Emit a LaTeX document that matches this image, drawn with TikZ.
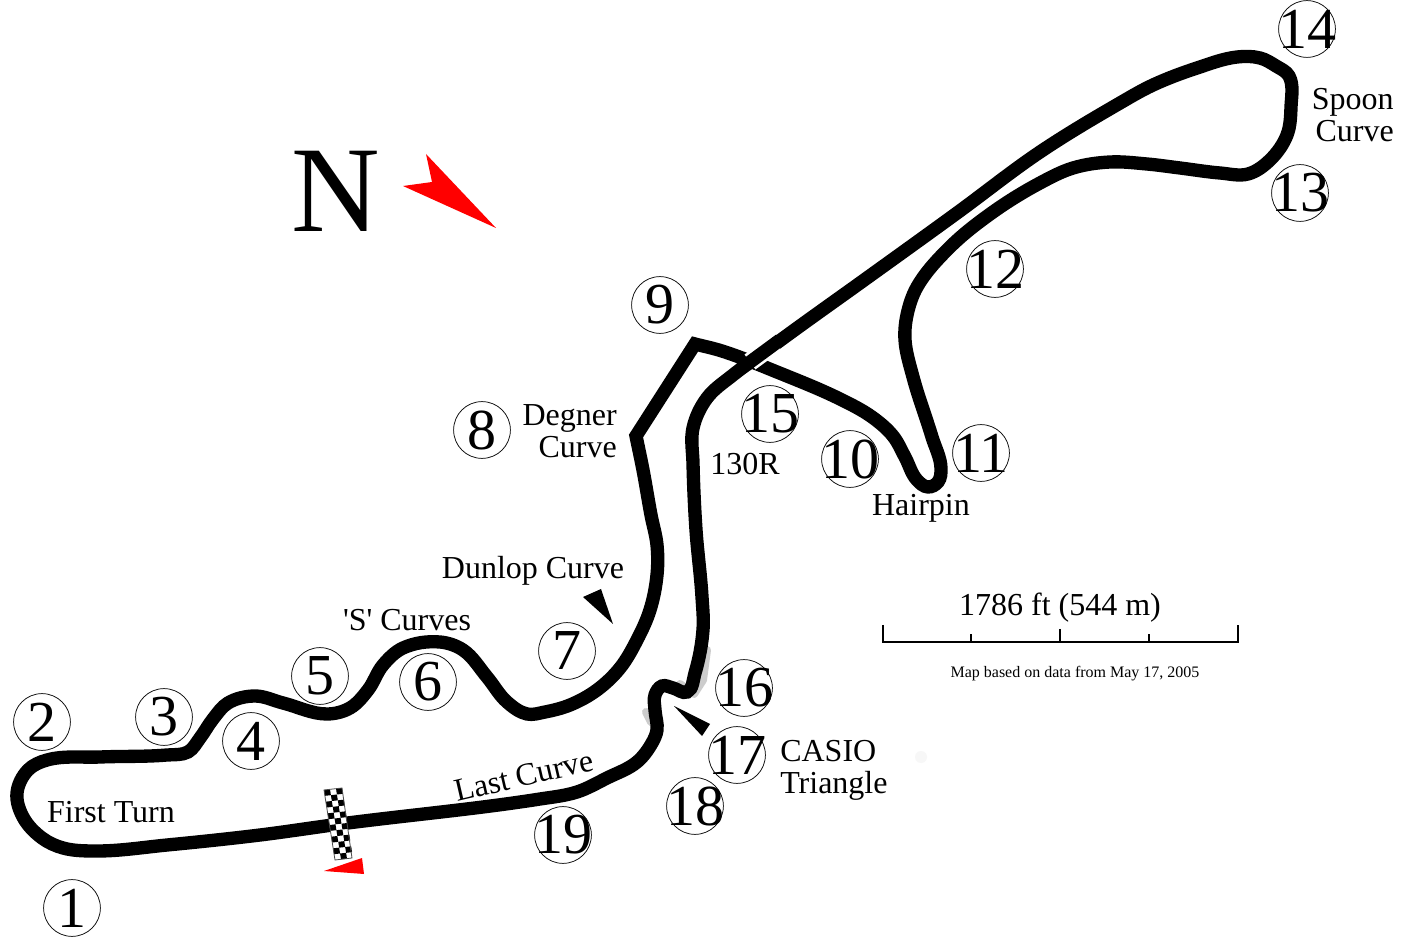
\documentclass[tikz,border=0pt]{standalone}
\usepackage{fontspec}
\setmainfont{Liberation Serif}
\newfontfamily\plainserif{Liberation Serif}
\tikzset{
  px/.style={x=0.75pt,y=-0.75pt},
  turnc/.style={circle,draw=black,line width=0.55pt,minimum size=42.6pt,inner sep=0pt,font=\fontsize{43.5}{44}\selectfont},
  lab/.style={font=\fontsize{24}{24}\selectfont,inner sep=0pt,align=center,text=black},
  echo/.style={line width=6pt,draw=black!20,line cap=round,line join=round},
}
\newcommand\turn[3]{\node[turnc] (t#3) at (#1,#2) {\makebox[0pt]{#3}};}
% centre line of the track, in pixels
\def\tkx{{695,722,777,840,872,893,905,917,928,938,941,932,913,905,907,917,950,993,1040,1073,1110,1147,1180,1220,1248,1270,1287,1291,1289,1276,1260,1237,1197,1153,1120,1040,957,860,800,763,733,707,693,693,696,702,703,695,687,673,662,655,655,657,652,637,607,577,540,340,260,167,97,63,42,23,17,28,47,100,167,188,200,213,228,255,283,327,350,368,383,403,440,463,487,507,527,545,570,597,620,637,650,657,657,651,643,636}}
\def\tky{{344,351,372,399,417,436,457,480,487,482,468,437,377,340,315,287,247,212,183,168,162,164,168,173,174,160,135,107,76,66,58,57,68,85,103,152,213,283,326,353,375,398,428,463,530,597,630,673,692,688,686,695,710,730,743,762,778,792,799,824,835,845,851,848,838,817,793,770,760,757,755,752,738,719,703,696,703,714,708,690,665,648,642,650,677,702,714,712,705,690,668,640,610,575,545,515,470,436}}
\pgfmathtruncatemacro{\tkn}{dim(\tkx)}
% unit tangent at index #1 -> \tanx, \tany (bisector of the two chords)
\newcommand\tktan[1]{%
  \pgfmathtruncatemacro{\ip}{max(#1-1,0)}%
  \pgfmathtruncatemacro{\iq}{min(#1+1,\tkn-1)}%
  \pgfmathsetmacro{\ax}{\tkx[#1]-\tkx[\ip]}\pgfmathsetmacro{\ay}{\tky[#1]-\tky[\ip]}%
  \pgfmathsetmacro{\bx}{\tkx[\iq]-\tkx[#1]}\pgfmathsetmacro{\by}{\tky[\iq]-\tky[#1]}%
  \pgfmathsetmacro{\la}{max(veclen(\ax,\ay),0.01)}\pgfmathsetmacro{\lb}{max(veclen(\bx,\by),0.01)}%
  \pgfmathsetmacro{\vx}{\ax/\la+\bx/\lb}\pgfmathsetmacro{\vy}{\ay/\la+\by/\lb}%
  \pgfmathsetmacro{\lv}{max(veclen(\vx,\vy),0.01)}%
  \pgfmathsetmacro{\tanx}{\vx/\lv}\pgfmathsetmacro{\tany}{\vy/\lv}%
}
\begin{document}
\begin{tikzpicture}[px]
\useasboundingbox (0,0) rectangle (1407,937);
\fill[white] (0,0) rectangle (1407,937);
% gray echo
\draw[echo] (707,650) -- (703,680) -- (694,694) -- (680,684);
\draw[echo] (646,712) -- (651,722);
\fill[black!3] (921,757) circle (6);
% track
\begin{pgfscope}
\pgfsetlinewidth{10pt}
\pgfsetmiterjoin
\pgfsetstrokecolor{black}
\pgfmathsetmacro{\startx}{\tkx[0]}\pgfmathsetmacro{\starty}{\tky[0]}
\pgfpathmoveto{\pgfpointxy{\startx}{\starty}}
\pgfmathtruncatemacro{\tklast}{\tkn-2}
\foreach \i in {0,...,\tklast}{
  \pgfmathtruncatemacro{\j}{\i+1}
  \pgfmathsetmacro{\xa}{\tkx[\i]}\pgfmathsetmacro{\ya}{\tky[\i]}
  \pgfmathsetmacro{\xb}{\tkx[\j]}\pgfmathsetmacro{\yb}{\tky[\j]}
  \pgfmathsetmacro{\dd}{veclen(\xb-\xa,\yb-\ya)/3}
  \tktan{\i}\pgfmathsetmacro{\cax}{\xa+\dd*\tanx}\pgfmathsetmacro{\cay}{\ya+\dd*\tany}
  \tktan{\j}\pgfmathsetmacro{\cbx}{\xb-\dd*\tanx}\pgfmathsetmacro{\cby}{\yb-\dd*\tany}
  \pgfpathcurveto{\pgfpointxy{\cax}{\cay}}{\pgfpointxy{\cbx}{\cby}}{\pgfpointxy{\xb}{\yb}}
}
\pgfpathclose
\pgfusepath{stroke}
\end{pgfscope}
% bridge at the crossing
\draw[draw=white,line width=13.9pt] (776,343) -- (750,362);
\draw[draw=black,line width=10pt] (780,340) -- (746,365);
% flag
\fill[white] (324,790) -- (342,788) -- (352,858) -- (335,860) -- cycle;
\foreach \r in {0,...,11}{\foreach \c in {0,1,2}{
  \pgfmathtruncatemacro{\m}{mod(\r+\c,2)}
  \ifnum\m=0
  \fill[black] ({324+\c*6+\r*11/12},{790-\c*0.67+\r*70/12}) -- ({324+(\c+1)*6+\r*11/12},{790-(\c+1)*0.67+\r*70/12}) -- ({324+(\c+1)*6+(\r+1)*11/12},{790-(\c+1)*0.67+(\r+1)*70/12}) -- ({324+\c*6+(\r+1)*11/12},{790-\c*0.67+(\r+1)*70/12}) -- cycle;
  \fi
}}
\draw[black!70,line width=0.6pt] (324,790) -- (342,788) -- (352,858) -- (335,860) -- cycle;
% red
\fill[red] (324,871) -- (362,858) -- (364,874) -- cycle;
\fill[red] (426,154) -- (496,228) -- (403,186) -- (432,182) -- cycle;
% black markers
\fill[black] (583,597) -- (601,589) -- (613,624) -- cycle;
\fill[black] (674,706) -- (710,724) -- (702,736) -- cycle;
% N
\node[font=\fontsize{92}{92}\selectfont,inner sep=0pt] (north) at (336,191) {N};
% turns
\turn{72}{908}{1}\turn{42}{722}{2}\turn{164}{717}{3}\turn{251}{741}{4}\turn{320}{676}{5}
\turn{428}{682}{6}\turn{567}{651}{7}\turn{482}{430}{8}\turn{660}{305}{9}\turn{850}{459}{10}
\turn{981}{453}{11}\turn{995}{269}{12}\turn{1300}{193}{13}\turn{1307}{29}{14}\turn{770}{414}{15}
\turn{744}{688}{16}\turn{737}{755}{17}\turn{695}{806}{18}\turn{563}{835}{19}
% labels
\node[lab,align=right,anchor=base east] (spoon) at (1394,142) {Spoon\\Curve};
\node[lab,align=right,anchor=base east] (degner) at (617,458) {Degner\\Curve};
\node[lab,anchor=base] (hair) at (921,516) {Hairpin};
\node[lab,anchor=base] (r130) at (745,475) {130R};
\node[lab,anchor=base] (dunlop) at (533,579) {Dunlop Curve};
\node[lab,anchor=base] (scurve) at (407,630) {{\plainserif 'S'} Curves};
\node[lab,anchor=base west,align=left] (casio) at (780,793) {CASIO\\Triangle};
\node[lab,anchor=base] (first) at (111,822) {First Turn};
\node[lab,anchor=base,rotate=13] (last) at (526,786) {Last Curve};
% scale
\draw[line width=1.5pt,line join=miter] (883,625) -- (883,642) -- (1238,642) -- (1238,625);
\draw[line width=1.5pt] (971,634) -- (971,642) (1060,629) -- (1060,642) (1149,634) -- (1149,642);
\node[lab,anchor=base] (scale) at (1060,615) {1786 ft (544 m)};
\node[font=\fontsize{12}{14}\selectfont,inner sep=0pt,anchor=base] (data) at (1075,677) {Map based on data from May 17, 2005};
\end{tikzpicture}
\end{document}
